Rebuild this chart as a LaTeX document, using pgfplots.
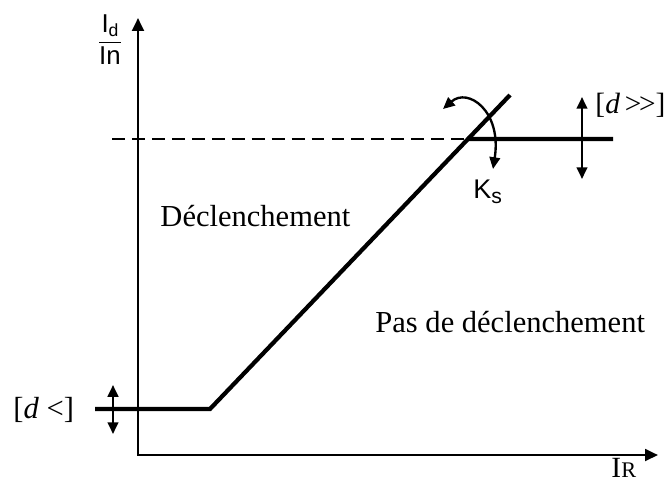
\documentclass[border=0pt]{standalone}
\usepackage{pgfplots}
\pgfplotsset{compat=1.18}
\usepackage{fontspec}
\setmainfont{Liberation Serif}
\setsansfont{Liberation Sans}
\usetikzlibrary{arrows.meta}
\begin{document}
\begin{tikzpicture}
\begin{axis}[scale only axis, width=10cm, height=7.2006cm,
  xmin=0, xmax=668, ymin=0, ymax=481, hide axis, clip=false]
% axes
\draw[line width=1.1pt, -{Triangle[length=5.5pt,width=5pt]}] (axis cs:138,25.4) -- (axis cs:138,463);
\draw[line width=1.1pt, -{Triangle[length=5.5pt,width=5pt]}] (axis cs:137.4,26) -- (axis cs:658,26);
% characteristic
\addplot[line width=1.8pt, line join=miter] coordinates {(95,72) (210,72) (468,342) (613,342)};
\addplot[line width=1.8pt] coordinates {(468,342) (510,386)};
\addplot[line width=0.9pt, dash pattern=on 5.5pt off 3pt] coordinates {(112,342) (466,342)};
% double arrows
\draw[line width=1pt, {Triangle[length=5pt,width=4.5pt]}-{Triangle[length=5pt,width=4.5pt]}] (axis cs:113,96) -- (axis cs:113,47);
\draw[line width=1pt, {Triangle[length=5pt,width=4.5pt]}-{Triangle[length=5pt,width=4.5pt]}] (axis cs:582,384) -- (axis cs:582,302);
% Ks arc
\draw[line width=1pt, {Triangle[length=5pt,width=4.5pt]}-{Triangle[length=5pt,width=4.5pt]}] (axis cs:443,372) .. controls (axis cs:468,394) and (axis cs:502,370) .. (axis cs:493,312);
% labels
\node[anchor=base west, inner sep=0, font=\fontsize{13}{15}\selectfont] at (axis cs:160,255) {Déclenchement};
\node[anchor=base west, inner sep=0, font=\fontsize{13}{15}\selectfont] at (axis cs:375,149) {Pas de déclenchement};
\node[anchor=west, inner sep=0, font=\fontsize{13}{15}\selectfont] at (axis cs:13,71) {[\textit{d} <]};
\node[anchor=west, inner sep=0, font=\fontsize{12.5}{15}\selectfont] at (axis cs:595,376) {[\textit{d}\,{>}\kern-1pt{>}]};
\node[anchor=base west, inner sep=0, font=\sffamily\fontsize{11.5}{13}\selectfont] at (axis cs:473,283) {K\raisebox{-0.4ex}{\fontsize{9}{10}\selectfont s}};
\node[anchor=base west, inner sep=0, font=\fontsize{12.5}{14}\selectfont] at (axis cs:611,4) {I{\fontsize{9.5}{11}\selectfont R}};
\node[inner sep=0] at (axis cs:110,441) {$\displaystyle\frac{\mbox{\sffamily\fontsize{11}{13}\selectfont I\raisebox{-0.3ex}{\fontsize{7.5}{8}\selectfont d}}}{\mbox{\sffamily\fontsize{11}{13}\selectfont In}}$};
\coordinate (bl) at (axis cs:0,0);
\coordinate (tr) at (axis cs:668,481);
\end{axis}
\pgfresetboundingbox
\useasboundingbox (bl) rectangle (tr);
\end{tikzpicture}
\end{document}
